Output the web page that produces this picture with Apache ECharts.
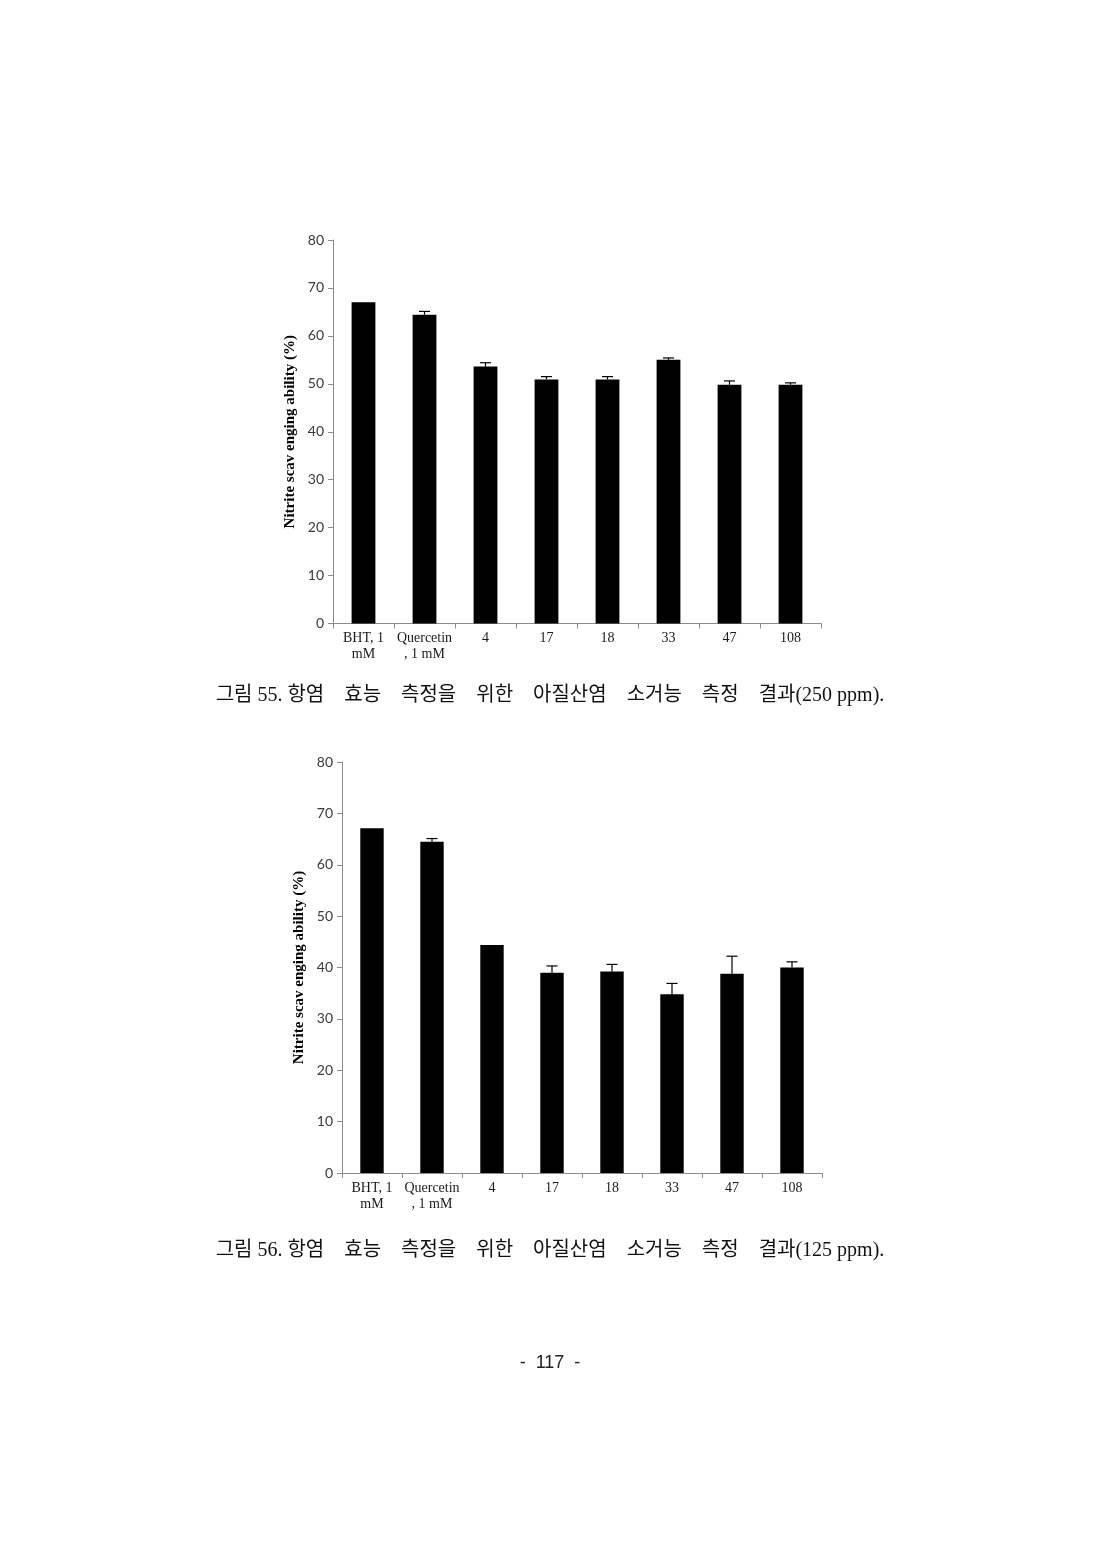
<!DOCTYPE html>
<html>
<head>
<meta charset="utf-8">
<script src="https://cdn.jsdelivr.net/npm/echarts@6/dist/echarts.min.js"></script>
<style>
  html, body { margin: 0; padding: 0; background: #fff; }
  #page { width: 1100px; height: 1554px; }
</style>
</head>
<body>
<div id="page"></div>
<script>
// categories shared by both figures
var categories = ['BHT, 1\nmM', 'Quercetin\n, 1 mM', '4', '17', '18', '33', '47', '108'];
var yTicks = [0, 10, 20, 30, 40, 50, 60, 70, 80];

// Fig 55 (250 ppm)
var values250 = [67.0, 64.4, 53.6, 50.9, 50.9, 55.0, 49.8, 49.8];
var errors250 = [0, 0.7, 0.8, 0.6, 0.6, 0.4, 0.8, 0.4];

// Fig 56 (125 ppm)
var values125 = [67.1, 64.5, 44.4, 39.0, 39.2, 34.8, 38.8, 40.0];
var errors125 = [0, 0.6, 0, 1.3, 1.4, 2.1, 3.4, 1.1];

var yTitle = 'Nitrite scav enging ability (%)';
var caption55 = '그림 55. 항염    효능    측정을    위한    아질산염    소거능    측정    결과(250 ppm).';
var caption56 = '그림 56. 항염    효능    측정을    위한    아질산염    소거능    측정    결과(125 ppm).';
var pageNo = '-  117  -';

var serif = "'Liberation Serif', 'Times New Roman', serif";
var tickFont = "Lato, 'Open Sans', sans-serif";
var captionFont = "'Liberation Serif', 'Noto Sans CJK KR', serif";

function makeX(idx) {
    return {
        type: 'category',
        gridIndex: idx,
        data: categories,
        axisLine: { lineStyle: { color: '#8c8c8c', width: 1 } },
        axisTick: { show: true, length: 5, lineStyle: { color: '#8c8c8c' } },
        axisLabel: {
            interval: 0,
            margin: 7,
            fontFamily: serif,
            fontSize: 14,
            lineHeight: 16,
            color: '#1a1a1a'
        }
    };
}

function makeY(idx, gap) {
    return {
        type: 'value',
        gridIndex: idx,
        min: yTicks[0],
        max: yTicks[yTicks.length - 1],
        interval: 10,
        splitLine: { show: false },
        axisLine: { show: true, lineStyle: { color: '#8c8c8c', width: 1 } },
        axisTick: { show: true, length: 5, lineStyle: { color: '#8c8c8c' } },
        axisLabel: { margin: 9, fontFamily: tickFont, fontSize: 14, color: '#3a3a3a' },
        name: yTitle,
        nameLocation: 'middle',
        nameGap: gap,
        nameRotate: 90,
        nameTextStyle: { fontFamily: serif, fontWeight: 'bold', fontSize: 15, color: '#000' }
    };
}

function barSeries(idx, vals) {
    return {
        type: 'bar',
        xAxisIndex: idx,
        yAxisIndex: idx,
        data: vals,
        barWidth: '39%',
        itemStyle: { color: '#000' },
        silent: true
    };
}

function errSeries(idx, vals, errs) {
    var d = vals.map(function(v, i) { return [i, v, errs[i]]; });
    return {
        type: 'custom',
        xAxisIndex: idx,
        yAxisIndex: idx,
        data: d,
        z: 5,
        silent: true,
        renderItem: function(params, api) {
            var e = api.value(2);
            if (!e) return null;
            var lo = api.coord([api.value(0), api.value(1)]);
            var hi = api.coord([api.value(0), api.value(1) + e]);
            var cap = 5.5;
            var style = { stroke: '#000', lineWidth: 1.2 };
            return {
                type: 'group',
                children: [
                    { type: 'line', shape: { x1: lo[0], y1: lo[1], x2: hi[0], y2: hi[1] }, style: style },
                    { type: 'line', shape: { x1: hi[0] - cap, y1: hi[1], x2: hi[0] + cap, y2: hi[1] }, style: style }
                ]
            };
        }
    };
}

var chart = echarts.init(document.getElementById('page'));
chart.setOption({
    animation: false,
    backgroundColor: '#fff',
    grid: [
        { left: 333, top: 240, width: 488, height: 383.5 },
        { left: 342, top: 762, width: 480, height: 411 }
    ],
    xAxis: [makeX(0), makeX(1)],
    yAxis: [makeY(0, 35), makeY(1, 35)],
    series: [
        barSeries(0, values250),
        errSeries(0, values250, errors250),
        barSeries(1, values125),
        errSeries(1, values125, errors125)
    ],
    graphic: [
        {
            type: 'text', left: 'center', top: 686,
            style: { text: caption55, fontFamily: captionFont, fontSize: 20, fill: '#111' }
        },
        {
            type: 'text', left: 'center', top: 1241,
            style: { text: caption56, fontFamily: captionFont, fontSize: 20, fill: '#111' }
        },
        {
            type: 'text', left: 'center', top: 1354,
            style: { text: pageNo, fontFamily: "'Liberation Sans', sans-serif", fontSize: 18, fill: '#222' }
        }
    ]
});
</script>
</body>
</html>
